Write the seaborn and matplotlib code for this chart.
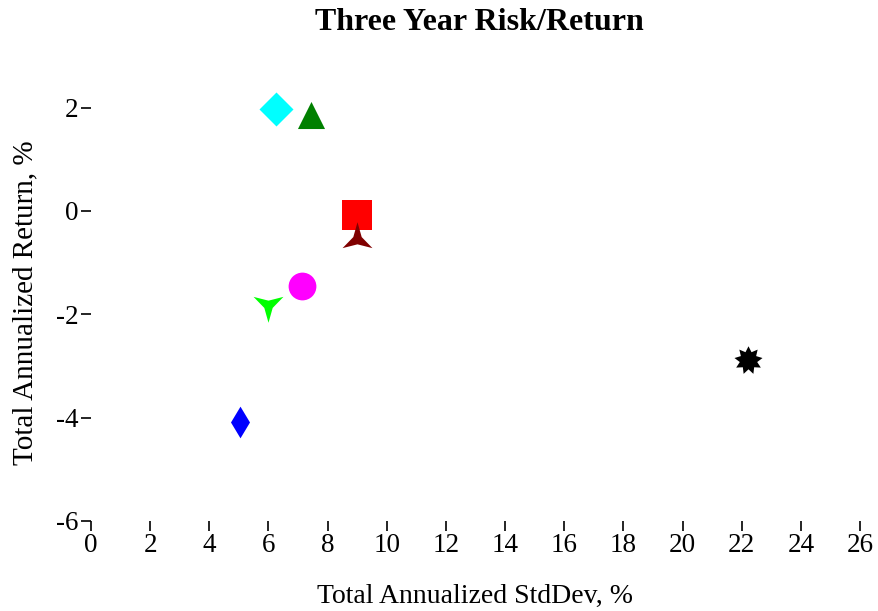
import matplotlib
matplotlib.use("Agg")
import matplotlib.pyplot as plt
from matplotlib.path import Path
import numpy as np
import seaborn as sns
import pandas as pd

names = ["A", "B", "C", "D", "E", "F", "G", "H"]
std_dev = [6.25, 7.44, 8.99, 9.0, 7.13, 5.98, 5.04, 22.2]
returns = [1.97, 1.85, -0.08, -0.55, -1.46, -1.81, -4.09, -2.88]
colors = ["#00ffff", "#008000", "#ff0000", "#800000", "#ff00ff", "#00ff00", "#0000ff", "#000000"]


def star(n, inner, rot=0):
    ang = np.pi / 2 + np.deg2rad(rot) + np.arange(2 * n) * np.pi / n
    r = np.where(np.arange(2 * n) % 2 == 0, 1.0, inner)
    verts = np.column_stack([r * np.cos(ang), r * np.sin(ang)])
    verts = np.vstack([verts, verts[:1]])
    return Path(verts, closed=True)


markers = ["D", "^", "s", star(3, 0.28), "o", star(3, 0.28, 180), "d", star(9, 0.62)]
sizes = [300, 380, 480, 620, 400, 620, 260, 420]

df = pd.DataFrame({"name": names, "std": std_dev, "ret": returns})

sns.set_style("white")
plt.rcParams["font.family"] = ["Liberation Serif", "DejaVu Serif"]
plt.rcParams["axes.unicode_minus"] = False
plt.rcParams["text.color"] = "black"
plt.rcParams["axes.labelcolor"] = "black"
plt.rcParams["xtick.color"] = "black"
plt.rcParams["ytick.color"] = "black"

fig = plt.figure(figsize=(8.79, 6.11), dpi=100)
ax = fig.add_axes([91 / 879, 1 - 521 / 611, (860 - 91) / 879, (521 - 56) / 611])

for i, row in df.iterrows():
    sns.scatterplot(x=[row["std"]], y=[row["ret"]], ax=ax, color=colors[i],
                    marker=markers[i], s=sizes[i], linewidth=0, legend=False)

ax.set_xlim(0, 26)
ax.set_ylim(-6, 3)
ax.set_xticks(range(0, 27, 2))
ax.set_yticks([-6, -4, -2, 0, 2])
for s in ax.spines.values():
    s.set_visible(False)
ax.tick_params(axis="both", direction="out", length=7, width=1.2,
               labelsize=19.5, bottom=True, left=True, pad=2)
ax.set_xlabel("Total Annualized StdDev, %", fontsize=20, labelpad=18)
ax.set_ylabel("Total Annualized Return, %", fontsize=21)
ax.yaxis.set_label_coords(-0.068, 0.469)
fig.text(0.545, 1 - 22 / 611, "Three Year Risk/Return", fontsize=23, fontweight="bold",
         ha="center", va="center")

fig.savefig("out.png", dpi=100)
